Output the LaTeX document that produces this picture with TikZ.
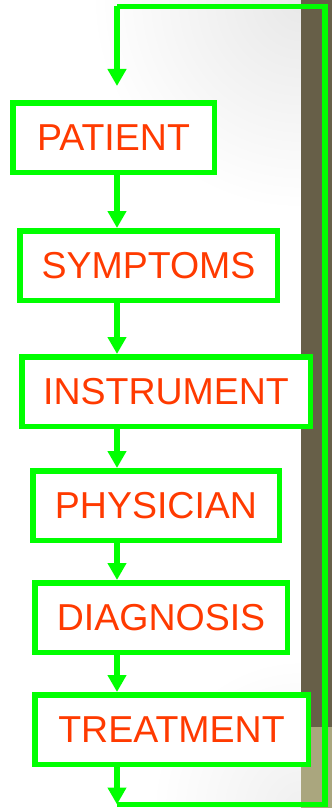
\documentclass[tikz,border=0pt]{standalone}
\usepackage{fontspec}
\setmainfont{Liberation Sans}
\usetikzlibrary{arrows.meta}
\definecolor{lgreen}{HTML}{00FF00}
\definecolor{txtred}{HTML}{FF3A00}
\definecolor{barbrown}{HTML}{675F48}
\definecolor{barkhaki}{HTML}{AAA67E}
\tikzset{
  flowbox/.style={draw=lgreen, line width=5.5pt, fill=white, text=txtred,
    font=\fontsize{37.5}{40}\selectfont, minimum height=69.5pt, inner sep=0pt},
  conn/.style={draw=lgreen, line width=5.5pt, line join=miter},
  arr/.style={conn, -{Triangle[width=18pt,length=17pt]}}
}
\begin{document}
\begin{tikzpicture}[x=1pt,y=-1pt]
\useasboundingbox (0,0) rectangle (332,808);
% background
\fill[white] (0,0) rectangle (332,808);
\begin{scope}
\clip (0,0) rectangle (301,808);
\shade[inner color=black!9, outer color=white] (301,0) circle (210);
\shade[inner color=black!6, outer color=white] (301,808) circle (150);
\end{scope}
\fill[barbrown] (301,0) rectangle (332,727);
\fill[barkhaki] (301,727) rectangle (332,808);
% boxes
\node[flowbox, minimum width=201.5pt] (p) at (113.5,137.5) {PATIENT};
\node[flowbox, minimum width=257.5pt] (s) at (148.5,265.5) {SYMPTOMS};
\node[flowbox, minimum width=288.5pt] (i) at (166,391.5) {INSTRUMENT};
\node[flowbox, minimum width=246.5pt] (ph) at (156,505.5) {PHYSICIAN};
\node[flowbox, minimum width=252.5pt] (d) at (161,617.5) {DIAGNOSIS};
\node[flowbox, minimum width=273.5pt] (t) at (171.5,729.5) {TREATMENT};
% connectors
\coordinate (ax) at (117,0);
\coordinate (tl) at (117,6.5);
\coordinate (tr) at (325,6.5);
\coordinate (br) at (325,804.5);
\coordinate (bl) at (117,804.5);
\coordinate (pin) at (117,86);
\draw[arr] (p.south -| ax) -- (s.north -| ax);
\draw[arr] (s.south -| ax) -- (i.north -| ax);
\draw[arr] (i.south -| ax) -- (ph.north -| ax);
\draw[arr] (ph.south -| ax) -- (d.north -| ax);
\draw[arr] (d.south -| ax) -- (t.north -| ax);
\draw[arr] (t.south -| ax) -- (bl);
\draw[conn] (bl) -- (br) -- (tr) -- (tl);
\draw[arr] (tl) -- (pin);
\end{tikzpicture}
\end{document}
